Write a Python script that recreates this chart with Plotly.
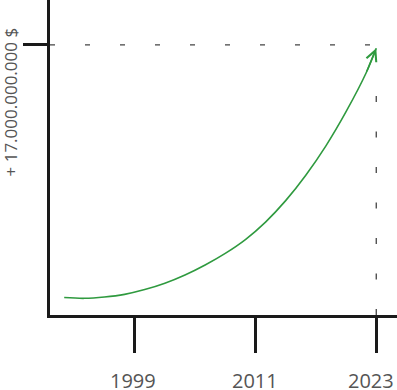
import plotly.graph_objects as go

years = [1992, 1994, 1996, 1998, 2000, 2002, 2004, 2006, 2008, 2010, 2012, 2014, 2016, 2018, 2020, 2022, 2023]
values = [1.10, 1.05, 1.13, 1.30, 1.60, 2.0, 2.52, 3.15, 3.88, 4.75, 5.85, 7.2, 8.8, 10.65, 12.8, 15.25, 16.79]
tick_years = [1999, 2011, 2023]
tick_labels = ["1999", "2011", "2023"]
target_value = 17
target_year = 2023
y_label = "+ 17.000.000.000 $"

x_range = [1990.59, 2025.06]
y_range = [0, 19.83]

green = "#2f9a3f"
dash_col = "#444444"
axis_col = "#1a1a1a"
text_col = "#555555"

fig = go.Figure()
# horizontal dashed reference line at target value
fig.add_trace(go.Scatter(x=[x_range[0], target_year], y=[target_value, target_value], mode="lines",
                         line=dict(color=dash_col, width=1.3, dash="5px,30px"), hoverinfo="skip", showlegend=False))
# vertical dashed line at target year, drawn from bottom
fig.add_trace(go.Scatter(x=[target_year, target_year], y=[0, 14.5], mode="lines",
                         line=dict(color=dash_col, width=1.3, dash="6px,29.5px"), hoverinfo="skip", showlegend=False))
# growth curve
fig.add_trace(go.Scatter(x=years, y=values, mode="lines",
                         line=dict(color=green, width=1.6, shape="spline", smoothing=1.0),
                         showlegend=False))

fig.add_annotation(x=years[-1], y=values[-1], ax=years[-2], ay=values[-2], xref="x", yref="y", axref="x", ayref="y",
                   showarrow=True, arrowhead=5, arrowsize=1.3, arrowwidth=1.6, arrowcolor=green, text="", standoff=0)

fig.add_annotation(text=y_label, xref="paper", yref="paper", x=-0.115, y=0.675, xanchor="center", yanchor="middle",
                   textangle=-90, showarrow=False, font=dict(family="Open Sans", size=17, color=text_col))

# tick labels (last one nudged inward so it stays inside the picture)
for i, (ty, tl) in enumerate(zip(tick_years, tick_labels)):
    shift = -5 if i == len(tick_years) - 1 else (-2 if i == 0 else 0)
    fig.add_annotation(text=tl, x=ty, xref="x", y=-0.2095, yref="paper", xanchor="center", yanchor="middle",
                       xshift=shift, showarrow=False, font=dict(family="Open Sans", size=20, color=text_col))

fig.update_layout(
    width=397, height=390, margin=dict(l=50, r=0, t=0, b=75, autoexpand=False),
    paper_bgcolor="white", plot_bgcolor="white",
    xaxis=dict(range=x_range, tickvals=tick_years, showticklabels=False, ticks="outside",
               ticklen=35, tickwidth=3, tickcolor=axis_col, showline=True, linewidth=3, linecolor=axis_col,
               showgrid=False, zeroline=False, automargin=False),
    yaxis=dict(range=y_range, tickvals=[target_value], ticks="outside", ticklen=24, tickwidth=3, tickcolor=axis_col,
               showticklabels=False, showline=True, linewidth=3, linecolor=axis_col, showgrid=False, zeroline=False,
               automargin=False),
)

fig.write_html("out.html", config={"displayModeBar": False},
               post_script="document.body.style.margin='0';document.body.style.overflow='hidden';")
